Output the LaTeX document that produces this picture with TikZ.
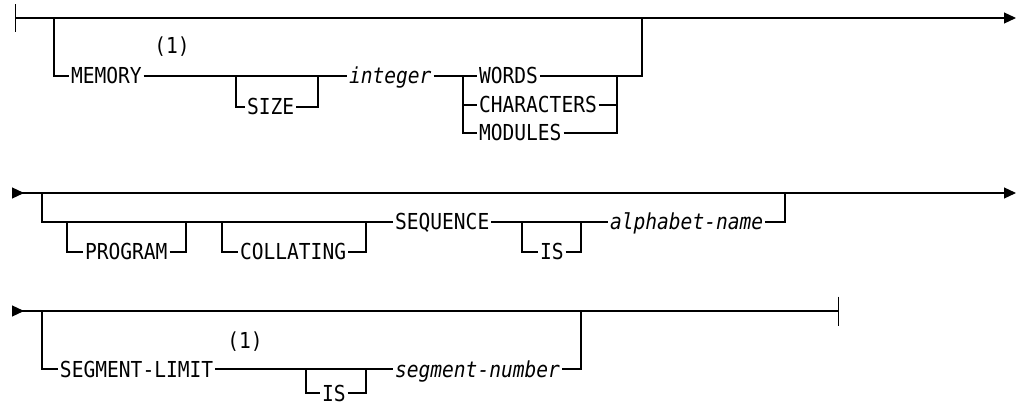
\documentclass[tikz,border=0pt]{standalone}
\usepackage{fontspec}
\setmonofont[FakeStretch=0.89]{DejaVu Sans Mono}
\usetikzlibrary{arrows.meta}
\usetikzlibrary{positioning}

\tikzset{
  kw/.style={anchor=west, inner xsep=1.5pt, inner ysep=0pt, outer sep=0pt,
    text height=12pt, text depth=0pt, font=\ttfamily\fontsize{16.5}{19}\selectfont},
  var/.style={kw, font=\ttfamily\itshape\fontsize{16.5}{19}\selectfont},
  fnote/.style={inner sep=0pt, font=\ttfamily\fontsize{16.5}{19}\selectfont},
  rail/.style={line width=0.9pt},
}

\begin{document}
\begin{tikzpicture}[x=0.75pt, y=-0.75pt, rail]
    \useasboundingbox (0,0) rectangle (1018,406);

    % MEMORY
    \coordinate (s1) at (15,18);
    \coordinate (e1) at (1016,18);
    \coordinate (j1) at (54,18);
    \coordinate (t1) at (642,18);
    \node[kw] (memory) at (69,76) {MEMORY};
    \node[fnote] (note1) at (172,47) {(1)};
    \coordinate (k1) at (236,76);
    \coordinate (k2) at (318,76);
    \node[kw] (size) at (245,107) {SIZE};
    \node[var] (integer) at (347,76) {integer};
    \coordinate (f1) at (463,76);
    \coordinate (g1) at (617,76);
    \node[kw] (words) at (477,76) {WORDS};
    \node[kw] (chars) at (477,105) {CHARACTERS};
    \node[kw] (modules) at (477,133) {MODULES};

    \draw[{Bar[width=21pt]}-{Triangle[length=9pt,width=8.25pt]}] (s1) -- (e1);
    \draw (j1) |- (memory.west);
    \draw (memory.east) -- (integer.west);
    \draw (k1) |- (size.west);
    \draw (size.east) -| (k2);
    \draw (integer.east) -- (words.west);
    \draw (f1) |- (chars.west);
    \draw (f1) |- (modules.west);
    \draw (words.east) -| (t1);
    \draw (chars.east) -| (g1);
    \draw (modules.east) -| (g1);

    % PROGRAM COLLATING SEQUENCE
    \coordinate (s2) at (12,193);
    \coordinate (e2) at (1016,193);
    \coordinate (j2) at (42,193);
    \coordinate (a1) at (785,193);
    \coordinate (p1) at (67,222);
    \coordinate (p2) at (186,222);
    \coordinate (c1) at (222,222);
    \coordinate (c2) at (366,222);
    \coordinate (i1) at (522,222);
    \coordinate (i2) at (581,222);
    \node[kw] (program) at (83,252) {PROGRAM};
    \node[kw] (collating) at (238,252) {COLLATING};
    \node[kw] (sequence) at (393,222) {SEQUENCE};
    \node[kw] (is1) at (538,252) {IS};
    \node[var] (alphabet) at (608,222) {alphabet-name};

    \draw[{Triangle[reversed,length=9pt,width=8.25pt]}-{Triangle[length=9pt,width=8.25pt]}] (s2) -- (e2);
    \draw (j2) |- (sequence.west);
    \draw (p1) |- (program.west);
    \draw (program.east) -| (p2);
    \draw (c1) |- (collating.west);
    \draw (collating.east) -| (c2);
    \draw (sequence.east) -- (alphabet.west);
    \draw (i1) |- (is1.west);
    \draw (is1.east) -| (i2);
    \draw (alphabet.east) -| (a1);

    % SEGMENT-LIMIT
    \coordinate (s3) at (12,311);
    \coordinate (e3) at (839,311);
    \coordinate (j3) at (42,311);
    \coordinate (n1) at (581,311);
    \coordinate (m1) at (306,369);
    \coordinate (m2) at (366,369);
    \node[kw] (segment) at (58,369) {SEGMENT-LIMIT};
    \node[fnote] (note2) at (245,342) {(1)};
    \node[kw] (is2) at (320,393) {IS};
    \node[var] (segnum) at (393,369) {segment-number};

    \draw[{Triangle[reversed,length=9pt,width=8.25pt]}-{Bar[width=21.75pt]}] (s3) -- (e3);
    \draw (j3) |- (segment.west);
    \draw (segment.east) -- (segnum.west);
    \draw (m1) |- (is2.west);
    \draw (is2.east) -| (m2);
    \draw (segnum.east) -| (n1);
\end{tikzpicture}
\end{document}
